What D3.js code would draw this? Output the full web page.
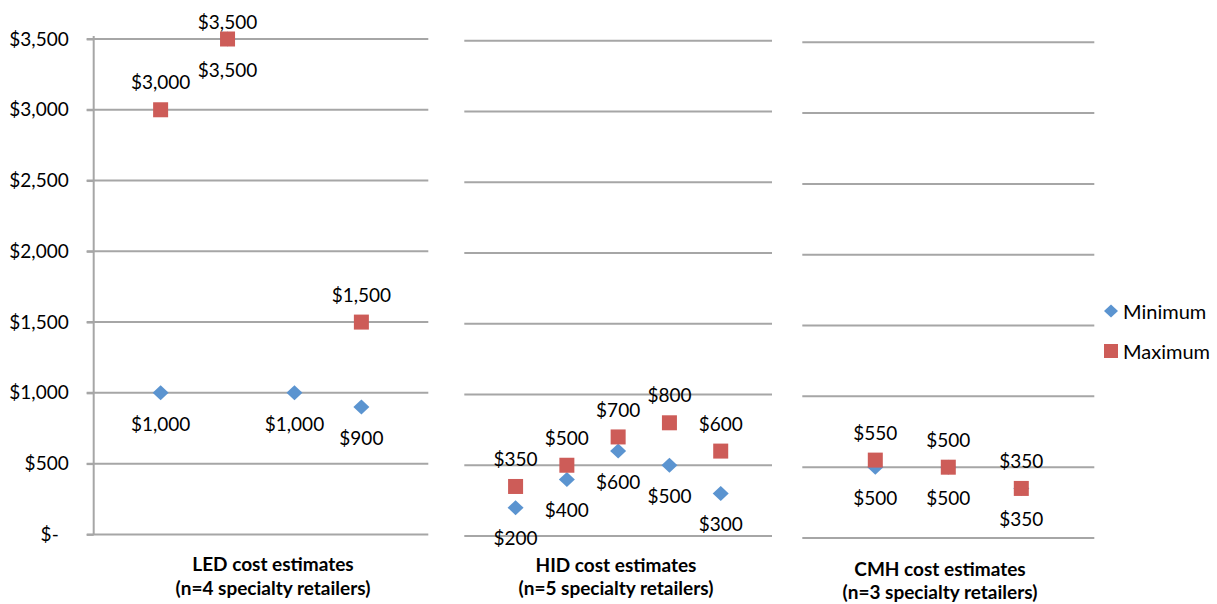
<!DOCTYPE html>
<html>
<head>
<meta charset="utf-8">
<script src="https://cdn.jsdelivr.net/npm/d3@7"></script>
<style>
  body { margin: 0; background: #fff; }
  text { font-family: Lato, "Open Sans", sans-serif; fill: #000; }
</style>
</head>
<body>
<svg id="chart" width="1217" height="604"></svg>
<script>
// Data
const yTicks = [0, 500, 1000, 1500, 2000, 2500, 3000, 3500];
const ledMin = [1000, 3500, 1000, 900];
const ledMax = [3000, 3500, null, 1500];
const hidMin = [200, 400, 600, 500, 300];
const hidMax = [350, 500, 700, 800, 600];
const cmhMin = [500, 500, 350];
const cmhMax = [550, 500, 350];
const titles = [
    ['LED cost estimates', '(n=4 specialty retailers)'],
    ['HID cost estimates', '(n=5 specialty retailers)'],
    ['CMH cost estimates', '(n=3 specialty retailers)']
];
const seriesNames = ['Minimum', 'Maximum'];

const minColor = '#5B94D0';
const maxColor = '#CD5C58';
const gridColor = '#A6A6A6';

const svg = d3.select('#chart');
const fmt = v => v === 0 ? '$-' : '$' + d3.format(',')(v);

// Each panel is its own small chart, positioned like the original
const panels = [
    { min: ledMin, max: ledMax, x0: 93.7, x1: 428.3, y0: 534.4, y1: 39, xMax: 5, axis: true,
      titleX: 273, titleY: [564, 588] },
    { min: hidMin, max: hidMax, x0: 464.3, x1: 772, y0: 536, y1: 40.7, xMax: 6, axis: false,
      titleX: 616, titleY: [565, 588] },
    { min: cmhMin, max: cmhMax, x0: 802.3, x1: 1094.3, y0: 538, y1: 42.3, xMax: 4, axis: false,
      titleX: 940, titleY: [569, 592] }
];

const diamond = 'M0,-7.5L8,0L0,7.5L-8,0Z';

panels.forEach((p, pi) => {
    const xScale = d3.scaleLinear().domain([0, p.xMax]).range([p.x0, p.x1]);
    const yScale = d3.scaleLinear().domain([0, 3500]).range([p.y0, p.y1]);
    const g = svg.append('g');

    // Gridlines
    g.selectAll('line.grid')
        .data(yTicks)
        .enter()
        .append('line')
        .attr('class', 'grid')
        .attr('x1', p.axis ? p.x0 - 7 : p.x0)
        .attr('x2', p.x1)
        .attr('y1', d => yScale(d))
        .attr('y2', d => yScale(d))
        .attr('stroke', gridColor)
        .attr('stroke-width', 2);

    // Y axis only on the first panel
    if (p.axis) {
        const ax = g.append('g')
            .attr('transform', `translate(${p.x0},0)`)
            .call(d3.axisLeft(yScale).tickValues(yTicks).tickFormat(fmt).tickSize(7).tickPadding(18));
        ax.select('.domain').attr('stroke', gridColor).attr('stroke-width', 2)
            .attr('d', `M0,${p.y0}V${p.y1 - 3}`);
        ax.selectAll('.tick line').attr('stroke', gridColor).attr('stroke-width', 2);
        ax.selectAll('.tick text')
            .attr('font-size', '19px')
            .attr('font-family', 'Lato, sans-serif')
            .attr('fill', '#000')
            .attr('dx', d => d === 0 ? -10 : 0);
    }

    const minPts = p.min.map((v, i) => ({ i: i + 1, v })).filter(d => d.v !== null);
    const maxPts = p.max.map((v, i) => ({ i: i + 1, v })).filter(d => d.v !== null);

    // Minimum markers (diamonds)
    g.selectAll('path.min')
        .data(minPts)
        .enter()
        .append('path')
        .attr('class', 'min')
        .attr('d', diamond)
        .attr('transform', d => `translate(${xScale(d.i)},${yScale(d.v)})`)
        .attr('fill', minColor);

    // Maximum markers (squares)
    g.selectAll('rect.max')
        .data(maxPts)
        .enter()
        .append('rect')
        .attr('class', 'max')
        .attr('x', d => xScale(d.i) - 7.5)
        .attr('y', d => yScale(d.v) - 7.5)
        .attr('width', 15)
        .attr('height', 15)
        .attr('fill', maxColor);

    // Labels: minimum below, maximum above
    g.selectAll('text.minlab')
        .data(minPts)
        .enter()
        .append('text')
        .attr('class', 'minlab')
        .attr('x', d => xScale(d.i))
        .attr('y', d => yScale(d.v) + 31)
        .attr('dy', '0.35em')
        .attr('text-anchor', 'middle')
        .attr('font-size', '19px')
        .text(d => fmt(d.v));

    g.selectAll('text.maxlab')
        .data(maxPts)
        .enter()
        .append('text')
        .attr('class', 'maxlab')
        .attr('x', d => xScale(d.i))
        .attr('y', d => Math.max(yScale(d.v) - 27, p.y1 - 17))
        .attr('dy', '0.35em')
        .attr('text-anchor', 'middle')
        .attr('font-size', '19px')
        .text(d => fmt(d.v));

    // Panel title
    g.selectAll('text.title')
        .data(titles[pi])
        .enter()
        .append('text')
        .attr('class', 'title')
        .attr('x', p.titleX)
        .attr('y', (d, i) => p.titleY[i])
        .attr('dy', '0.35em')
        .attr('text-anchor', 'middle')
        .attr('font-size', '19px')
        .attr('font-weight', 'bold')
        .text(d => d);
});

// Legend
const legend = svg.append('g').attr('transform', 'translate(1111, 311)');
seriesNames.forEach((name, i) => {
    const row = legend.append('g').attr('transform', `translate(0, ${i * 40})`);
    if (i === 0) {
        row.append('path').attr('d', 'M0,-6.5L7,0L0,6.5L-7,0Z').attr('fill', minColor);
    } else {
        row.append('rect').attr('x', -7).attr('y', -7).attr('width', 14).attr('height', 14).attr('fill', maxColor);
    }
    row.append('text')
        .attr('x', 12)
        .attr('y', 1)
        .attr('dy', '0.35em')
        .attr('font-size', '20px')
        .text(name);
});
</script>
</body>
</html>
